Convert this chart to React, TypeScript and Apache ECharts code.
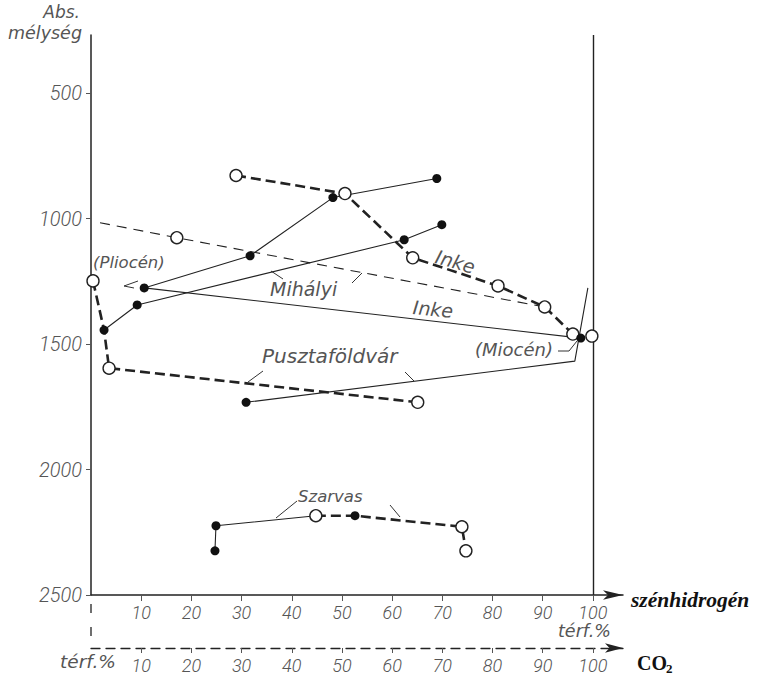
import React, { useEffect, useRef } from "react";
import * as echarts from "echarts";

// ---- axis ticks ----
const xTickValues = [10, 20, 30, 40, 50, 60, 70, 80, 90, 100];
const yTickValues = [500, 1000, 1500, 2000, 2500];

// ---- polylines: [percent, depth] ----
const inkeDashed = [[28.9, 828], [50.6, 900], [64.1, 1156], [81.1, 1268], [90.4, 1352], [96.0, 1460], [97.6, 1476]];
const mihalyiDashed = [[1.8, 1016], [17.1, 1076], [90.4, 1352]];
const mihalyiSolid = [[2.6, 1444], [9.2, 1344], [62.4, 1084], [69.9, 1024]];
const upperSolid = [[10.6, 1276], [31.7, 1148], [48.2, 916], [68.9, 840]];
const inkeSolid = [[10.6, 1276], [97.6, 1476]];
const pusztaSolid = [[30.9, 1732], [96.4, 1568], [99.0, 1276]];
const pusztaDashed = [[0.4, 1248], [2.6, 1444], [3.6, 1596], [65.1, 1732]];
const szarvasSolid = [[24.7, 2324], [24.9, 2224], [44.8, 2184]];
const szarvasDashed = [[44.8, 2184], [52.6, 2184], [73.9, 2228], [74.7, 2324]];

// ---- markers ----
const openPoints = [
  [28.9, 828], [50.6, 900], [64.1, 1156], [81.1, 1268], [90.4, 1352], [96.0, 1460], [99.8, 1468],
  [17.1, 1076], [0.4, 1248], [3.6, 1596], [65.1, 1732], [44.8, 2184], [73.9, 2228], [74.7, 2324],
];
const filledPoints = [
  [2.6, 1444], [9.2, 1344], [62.4, 1084], [69.9, 1024], [10.6, 1276], [31.7, 1148], [48.2, 916],
  [68.9, 840], [97.6, 1476], [30.9, 1732], [24.7, 2324], [24.9, 2224], [52.6, 2184],
];

const INK = "#222";
const TXT = "#555";
const SANS = '"DejaVu Sans", Roboto, sans-serif';
const AXISFONT = 'Roboto, "Liberation Sans", sans-serif';
const SERIF = '"Liberation Serif", "DejaVu Serif", serif';

function line(name: string, data: number[][], kind: "thin" | "thinDash" | "thickDash") {
  return {
    type: "line",
    name,
    data,
    symbol: "none",
    silent: true,
    z: 2,
    lineStyle: {
      color: INK,
      width: kind === "thickDash" ? 2.6 : 1.1,
      type: kind === "thin" ? "solid" : kind === "thickDash" ? [10, 5] : [10, 7],
    },
  };
}

function txt(text: string, x: number, y: number, size: number, extra: any = {}) {
  const weight = extra.weight || 300;
  const family = extra.family || SANS;
  const style = extra.style || "italic";
  return {
    type: "text",
    x,
    y,
    rotation: extra.rotation || 0,
    style: {
      text,
      fill: extra.fill || TXT,
      font: `${style} ${weight} ${size}px ${family}`,
      align: extra.align || "left",
      verticalAlign: "middle",
    },
    silent: true,
  };
}

function seg(points: number[][]) {
  return {
    type: "polyline",
    shape: { points },
    style: { stroke: "#333", lineWidth: 1, fill: "none" },
    silent: true,
  };
}

export default function App() {
  const ref = useRef<HTMLDivElement>(null);
  useEffect(() => {
    const chart = echarts.init(ref.current!, null, { renderer: "svg" });
    const axisLabel = {
      color: TXT,
      fontFamily: AXISFONT,
      fontStyle: "italic",
      fontWeight: 300,
      fontSize: 18,
      formatter: (v: number) => String(v),
    };
    const option: any = {
      animation: false,
      backgroundColor: "#fff",
      grid: { left: 91, top: 35, width: 532, height: 560 },
      xAxis: [
        {
          type: "value",
          min: 0,
          max: 106,
          position: "bottom",
          splitLine: { show: false },
          axisLine: {
            show: true,
            lineStyle: { color: INK, width: 1.5 },
            symbol: ["none", "arrow"],
            symbolSize: [7, 20],
          },
          axisTick: { show: true, customValues: xTickValues, length: 6, lineStyle: { color: "#555" } },
          axisLabel: { ...axisLabel, customValues: xTickValues, margin: 8 },
        },
        {
          type: "value",
          min: 0,
          max: 106,
          position: "bottom",
          offset: 53,
          splitLine: { show: false },
          axisLine: {
            show: true,
            lineStyle: { color: INK, width: 1.3, type: [9, 6] },
            symbol: ["none", "arrow"],
            symbolSize: [7, 18],
          },
          axisTick: { show: true, customValues: xTickValues, length: 5, lineStyle: { color: "#555" } },
          axisLabel: { ...axisLabel, customValues: xTickValues, margin: 8 },
        },
      ],
      yAxis: {
        type: "value",
        inverse: true,
        min: 268,
        max: 2500,
        splitLine: { show: false },
        axisLine: { show: true, lineStyle: { color: INK, width: 1.5 } },
        axisTick: { show: true, customValues: yTickValues, length: 5, lineStyle: { color: "#555" } },
        axisLabel: { ...axisLabel, fontSize: 20, customValues: yTickValues, margin: 9 },
      },
      series: [
        {
          ...line("Inke HC", inkeDashed, "thickDash"),
          markLine: {
            silent: true,
            symbol: "none",
            label: { show: false },
            lineStyle: { color: INK, width: 1.4, type: "solid" },
            data: [{ xAxis: 100 }],
          },
        },
        line("Mihályi HC", mihalyiDashed, "thinDash"),
        line("Mihályi CO2", mihalyiSolid, "thin"),
        line("upper", upperSolid, "thin"),
        line("Inke CO2", inkeSolid, "thin"),
        line("Pusztaföldvár CO2", pusztaSolid, "thin"),
        line("Pusztaföldvár HC", pusztaDashed, "thickDash"),
        line("Szarvas CO2", szarvasSolid, "thin"),
        line("Szarvas HC", szarvasDashed, "thickDash"),
        {
          type: "scatter",
          name: "open",
          data: openPoints,
          symbol: "circle",
          symbolSize: 12,
          silent: true,
          z: 5,
          itemStyle: { color: "#ffffff", opacity: 1, borderColor: INK, borderWidth: 1.4 },
        },
        {
          type: "scatter",
          name: "filled",
          data: filledPoints,
          symbol: "circle",
          symbolSize: 9,
          silent: true,
          z: 6,
          itemStyle: { color: "#111", opacity: 1 },
        },
      ],
      graphic: [
        txt("Abs.", 80, 12, 17, { align: "right" }),
        txt("mélység", 82, 33, 17.5, { align: "right" }),
        txt("(Pliocén)", 93, 262, 16.5),
        txt("Mihályi", 270, 289, 19),
        txt("Inke", 436, 256, 19, { rotation: -0.28 }),
        txt("Inke", 413, 307, 19, { rotation: -0.1 }),
        txt("(Miocén)", 475, 349, 18),
        txt("Pusztaföldvár", 262, 356, 20),
        txt("Szarvas", 298, 496, 16.5),
        txt("térf.%", 60, 661, 18.5),
        txt("térf.%", 558, 631, 17.5),
        txt("szénhidrogén", 631, 600, 21.5, { family: SERIF, weight: "bold", fill: "#111" }),
        txt("CO", 637, 663, 20, { family: SERIF, weight: "bold", style: "normal", fill: "#111" }),
        txt("2", 666, 668, 13, { family: SERIF, weight: "bold", style: "normal", fill: "#111" }),
        seg([[138, 281], [124, 286], [134, 288]]),
        seg([[283, 279], [271, 271]]),
        seg([[352, 283], [362, 273]]),
        seg([[263, 371], [248, 382]]),
        seg([[405, 372], [414, 381]]),
        seg([[297, 501], [276, 518]]),
        seg([[390, 505], [400, 517]]),
        seg([[558, 351], [569, 351], [577, 341]]),
        {
          type: "line",
          shape: { x1: 91, y1: 604, x2: 91, y2: 648 },
          style: { stroke: INK, lineWidth: 1.3, lineDash: [9, 14] },
          silent: true,
        },
      ],
    };
    chart.setOption(option);
    return () => chart.dispose();
  }, []);
  return (
    <div
      ref={ref}
      style={{ position: "fixed", left: 0, top: 0, width: 760, height: 676, background: "#fff" }}
    />
  );
}
